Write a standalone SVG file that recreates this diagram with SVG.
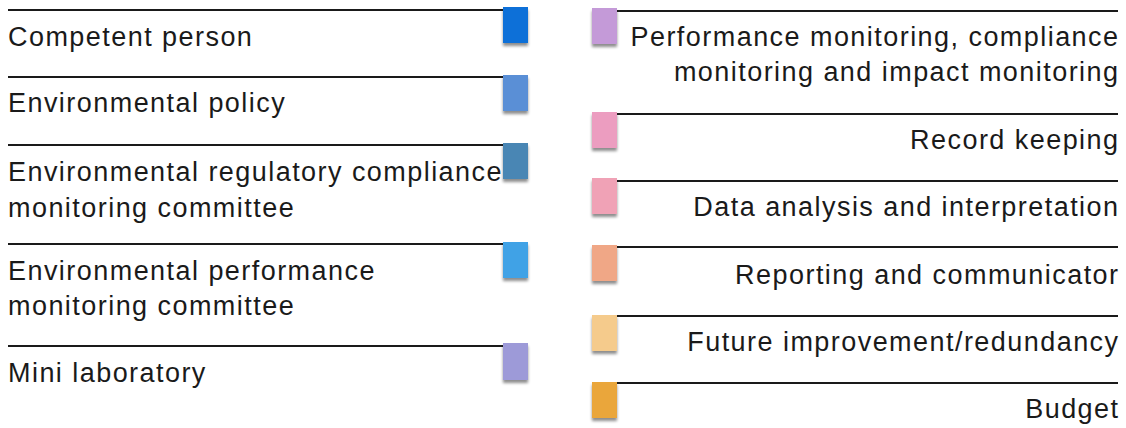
<svg xmlns="http://www.w3.org/2000/svg" width="1126" height="428" viewBox="0 0 1126 428">
<style>
text{font-family:"Liberation Sans",Arial,sans-serif;font-size:27px;letter-spacing:1.45px;fill:#1a1a1a}
.r{text-anchor:end}
line{stroke:#1a1a1a;stroke-width:2}
</style>
<defs>
<filter id="sh" x="-30%" y="-30%" width="160%" height="170%">
<feGaussianBlur in="SourceAlpha" stdDeviation="1.6"/>
<feOffset dy="3" result="b"/>
<feComponentTransfer><feFuncA type="linear" slope="0.45"/></feComponentTransfer>
<feMerge><feMergeNode/><feMergeNode in="SourceGraphic"/></feMerge>
</filter>
</defs>
<rect width="1126" height="428" fill="#ffffff"/>
<g id="connectors">
<line x1="8" y1="10" x2="503" y2="10"/>
<line x1="8" y1="77" x2="503" y2="77"/>
<line x1="8" y1="145" x2="503" y2="145"/>
<line x1="8" y1="244" x2="503" y2="244"/>
<line x1="8" y1="346" x2="503" y2="346"/>
<line x1="616" y1="11" x2="1118" y2="11"/>
<line x1="616" y1="114" x2="1118" y2="114"/>
<line x1="616" y1="181" x2="1118" y2="181"/>
<line x1="616" y1="247" x2="1118" y2="247"/>
<line x1="616" y1="316" x2="1118" y2="316"/>
<line x1="616" y1="383" x2="1118" y2="383"/>
</g>
<g id="n1"><rect x="503" y="7" width="25" height="36" fill="#0a70d8" filter="url(#sh)"/><text x="8" y="46">Competent person</text></g>
<g id="n2"><rect x="503" y="75" width="25" height="36" fill="#5a8fd6" filter="url(#sh)"/><text x="8" y="112">Environmental policy</text></g>
<g id="n3"><rect x="503" y="143" width="25" height="36" fill="#4a86b4" filter="url(#sh)"/><text x="8" y="181">Environmental regulatory compliance</text><text x="8" y="217">monitoring committee</text></g>
<g id="n4"><rect x="503" y="242" width="25" height="36" fill="#3fa2e6" filter="url(#sh)"/><text x="8" y="280">Environmental performance</text><text x="8" y="315">monitoring committee</text></g>
<g id="n5"><rect x="503" y="343" width="25" height="37" fill="#9d9ad8" filter="url(#sh)"/><text x="8" y="382">Mini laboratory</text></g>
<g id="n6"><rect x="592" y="8" width="25" height="36" fill="#c49ad8" filter="url(#sh)"/><text class="r" x="1119.5" y="46">Performance monitoring, compliance</text><text class="r" x="1119.5" y="81">monitoring and impact monitoring</text></g>
<g id="n7"><rect x="592" y="112" width="25" height="36" fill="#ec9dc0" filter="url(#sh)"/><text class="r" x="1119.5" y="149">Record keeping</text></g>
<g id="n8"><rect x="592" y="178" width="25" height="36" fill="#f0a2b6" filter="url(#sh)"/><text class="r" x="1119.5" y="216">Data analysis and interpretation</text></g>
<g id="n9"><rect x="592" y="245" width="25" height="36" fill="#f0a786" filter="url(#sh)"/><text class="r" x="1119.5" y="284">Reporting and communicator</text></g>
<g id="n10"><rect x="592" y="315" width="25" height="36" fill="#f5cb8c" filter="url(#sh)"/><text class="r" x="1119.5" y="351">Future improvement/redundancy</text></g>
<g id="n11"><rect x="592" y="382" width="25" height="36" fill="#eaa63a" filter="url(#sh)"/><text class="r" x="1119.5" y="418">Budget</text></g>
</svg>
